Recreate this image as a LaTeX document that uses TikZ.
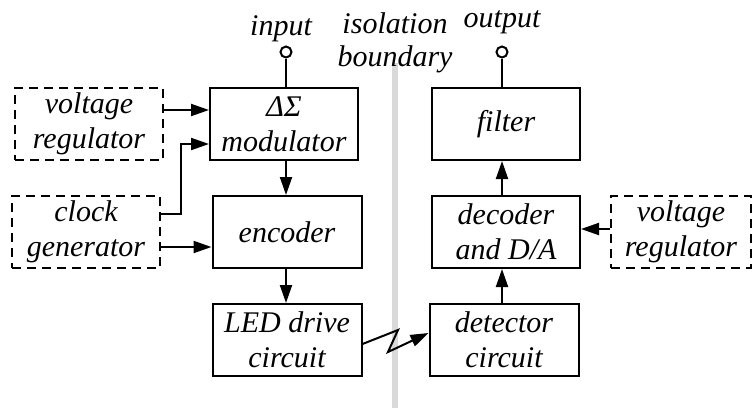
\documentclass[tikz,border=0pt]{standalone}
\usepackage{fontspec}
\setmainfont{Liberation Serif}
\usetikzlibrary{arrows.meta}
\begin{document}
\begin{tikzpicture}[x=1pt,y=-1pt,line width=2pt,
  font=\fontsize{30}{35}\selectfont\itshape,
  blk/.style={draw,align=center,minimum width=148pt,minimum height=72pt,inner sep=0pt},
  opt/.style={blk,dashed,dash pattern=on 9pt off 6pt},
  arr/.style={-{Triangle[length=18pt,width=12pt]}},
  lbl/.style={anchor=base,inner sep=0pt}]
\useasboundingbox (0,0) rectangle (753,408);
\fill[gray!30] (392,63) rectangle (398,408);
% sending side
\node[opt] (vregA) at (89,124) {voltage\\regulator};
\node[blk] (mod) at (284,124) {ΔΣ\\modulator};
\node[opt] (clk) at (86,232) {clock\\generator};
\node[blk,minimum width=149pt] (enc) at (287,232) {encoder};
\node[blk,minimum width=149pt] (led) at (287,340) {LED drive\\circuit};
% receiving side
\node[blk] (filt) at (506,124) {filter};
\node[blk] (dec) at (506,232) {decoder\\and D/A};
\node[blk,minimum width=149pt] (det) at (504,340) {detector\\circuit};
\node[opt,minimum width=140pt] (vregB) at (681,232) {voltage\\regulator};
% terminals and labels
\node[draw,circle,minimum size=11pt,inner sep=0pt] (in) at (286,52) {};
\node[draw,circle,minimum size=11pt,inner sep=0pt] (out) at (502,52) {};
\node[lbl] (inl) at (281,35) {input};
\node[lbl] (outl) at (502,27) {output};
\node[lbl] (isol) at (395,33) {isolation};
\node[lbl] (bnd) at (395,66) {boundary};
\draw (in) -- (in |- mod.north);
\draw (out) -- (out |- filt.north);
% connectors
\draw[arr] ([yshift=14pt]vregA.east) -- ([yshift=14pt]mod.west);
\draw[arr] ([yshift=18pt]clk.east) -- ++(20,0) |- ([yshift=-20pt]mod.west);
\draw[arr] ([yshift=-15pt]clk.east) -- ([yshift=-15pt]enc.west);
\draw[arr] (in |- mod.south) -- (in |- enc.north);
\draw[arr] (in |- enc.south) -- (in |- led.north);
\coordinate (zzA) at (398,330);
\coordinate (zzB) at (388,352);
\draw[arr] ([yshift=-4pt]led.east) -- (zzA) -- (zzB) -- ([yshift=7pt]det.west);
\draw[arr] (out |- det.north) -- (out |- dec.south);
\draw[arr] (out |- dec.north) -- (out |- filt.south);
\draw[arr] ([yshift=3pt]vregB.west) -- ([yshift=3pt]dec.east);
\end{tikzpicture}
\end{document}
